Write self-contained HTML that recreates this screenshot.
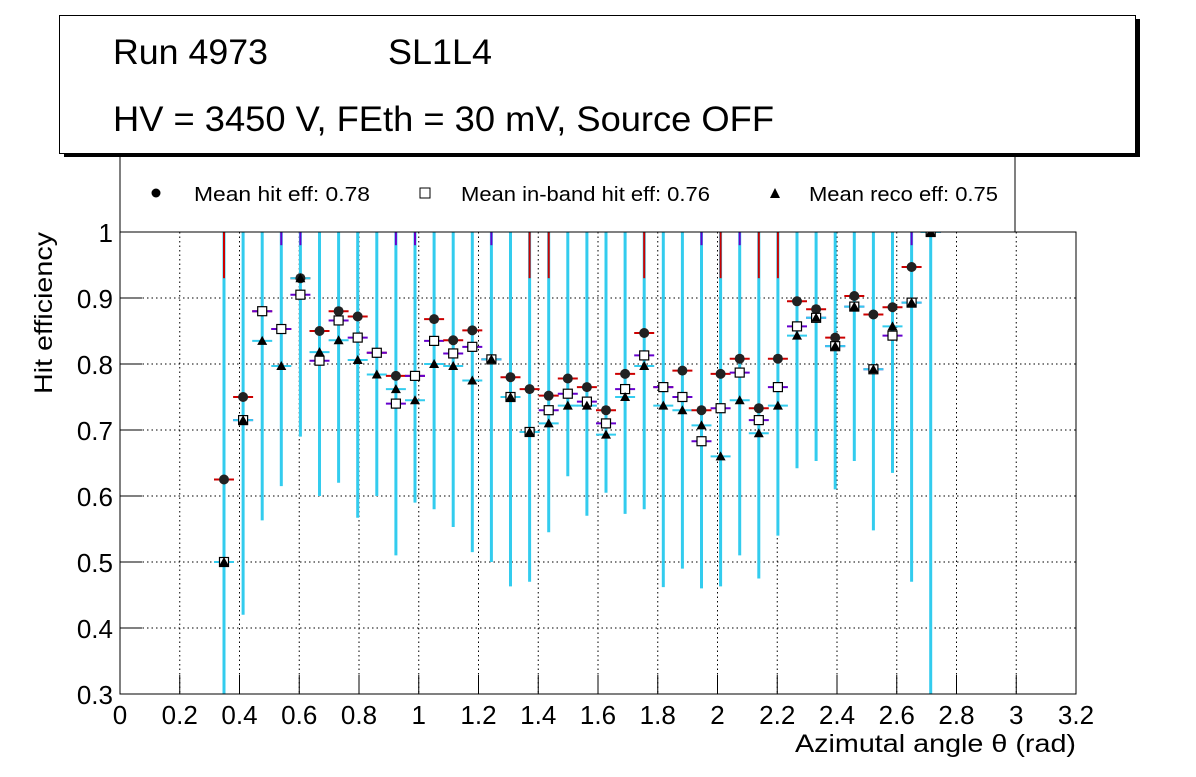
<!DOCTYPE html>
<html><head><meta charset="utf-8"><style>
body{margin:0;background:#fff;width:1196px;height:772px;overflow:hidden}
text{font-family:"Liberation Sans",sans-serif;fill:#000}
</style></head><body>
<svg id="s" width="1196" height="772" xmlns="http://www.w3.org/2000/svg">
<rect width="1196" height="772" fill="#fff"/>
<g id="grid"></g>
<g id="data"></g>
<rect x="120" y="232" width="956" height="462" fill="none" stroke="#000" stroke-width="1"/>
<g id="ticks"></g>
<rect x="120" y="155" width="895" height="77" fill="#fff" stroke="#000"/>
<circle cx="156" cy="193" r="4.5" fill="#000"/>
<text x="194" y="201" font-size="20" textLength="176" lengthAdjust="spacingAndGlyphs">Mean hit  eff: 0.78</text>
<rect x="420" y="188" width="10" height="10" fill="#fff" stroke="#000"/>
<text x="461" y="201" font-size="20" textLength="249" lengthAdjust="spacingAndGlyphs">Mean in-band hit eff: 0.76</text>
<polygon points="775,188 770,198 780,198" fill="#000"/>
<text x="809" y="201" font-size="20" textLength="189" lengthAdjust="spacingAndGlyphs">Mean reco eff: 0.75</text>
<rect x="64" y="19" width="1076" height="138" fill="#000"/>
<rect x="59.5" y="15.5" width="1076" height="138" fill="#fff" stroke="#000"/>
<text x="113" y="64" font-size="35" textLength="155" lengthAdjust="spacingAndGlyphs">Run 4973</text>
<text x="388" y="64" font-size="35" textLength="104" lengthAdjust="spacingAndGlyphs">SL1L4</text>
<text x="113" y="131" font-size="35" textLength="661" lengthAdjust="spacingAndGlyphs">HV = 3450 V, FEth = 30 mV, Source OFF</text>
<text x="795" y="752" font-size="25" textLength="281" lengthAdjust="spacingAndGlyphs">Azimutal angle θ (rad)</text>
<text transform="translate(52,394) rotate(-90)" font-size="25" textLength="162" lengthAdjust="spacingAndGlyphs">Hit efficiency</text>
</svg>
<script>
var NS="http://www.w3.org/2000/svg";
function el(p,t,a){var e=document.createElementNS(NS,t);for(var k in a)e.setAttribute(k,a[k]);p.appendChild(e);return e;}
var X=function(v){return 120+v*298.75}, Y=function(v){return 694-(v-0.3)*660};
var g=document.getElementById('grid'),tk=document.getElementById('ticks'),d=document.getElementById('data');
for(var i=1;i<16;i++){var x=X(i*0.2);el(g,'line',{x1:x,x2:x,y1:232,y2:694,stroke:'#000','stroke-dasharray':'1.5,3'});}
for(var j=1;j<7;j++){var y=Y(0.3+j*0.1);el(g,'line',{x1:120,x2:1076,y1:y,y2:y,stroke:'#000','stroke-dasharray':'1.5,3'});}
for(var i=0;i<=16;i++){var x=X(i*0.2);el(tk,'line',{x1:x,x2:x,y1:694,y2:675,stroke:'#000'});
 var t=el(tk,'text',{x:x,y:724,'font-size':26,'text-anchor':'middle'});t.textContent=(i==0?'0':(i%5==0?(i/5):(i*0.2).toFixed(1)));}
for(var j=0;j<=7;j++){var y=Y(0.3+j*0.1);el(tk,'line',{x1:120,x2:142,y1:y,y2:y,stroke:'#000'});
 var t=el(tk,'text',{x:113,y:y+10,'font-size':26,'text-anchor':'end'});t.textContent=(j==7?'1':(0.3+j*0.1).toFixed(1));}
var P=[[.625,.50,.50,.30],[.75,.715,.715,.42],[.88,.88,.835,.563],[.853,.853,.797,.615],[.93,.905,.93,.69],[.85,.805,.818,.6],[.88,.866,.836,.62],[.872,.84,.806,.567],[.817,.817,.784,.6],[.782,.74,.762,.51],[.782,.782,.745,.59],[.868,.835,.80,.58],[.836,.816,.797,.553],[.851,.826,.775,.515],[.807,.807,.807,.5],[.78,.75,.75,.463],[.762,.697,.697,.47],[.752,.73,.71,.545],[.778,.755,.737,.63],[.765,.743,.737,.57],[.73,.71,.693,.605],[.785,.762,.75,.573],[.847,.813,.797,.58],[.765,.765,.737,.462],[.79,.75,.73,.49],[.73,.683,.707,.46],[.785,.733,.66,.463],[.808,.787,.745,.51],[.733,.715,.695,.475],[.808,.765,.737,.54],[.895,.857,.843,.642],[.883,.87,.87,.653],[.84,.827,.827,.61],[.903,.887,.887,.653],[.875,.792,.792,.548],[.886,.843,.857,.635],[.947,.893,.893,.47],[1,1,1,.3]];
var red=[0,26,29,16,17,22,28],pur=[3,4,14,25,27,9,10,36];
P.forEach(function(p,i){var x=224+i*19.1;
 el(d,'line',{x1:x,x2:x,y1:Y(1),y2:Y(p[3]),stroke:'#33ccee','stroke-width':3});
 if(red.indexOf(i)>=0)el(d,'line',{x1:x,x2:x,y1:Y(1),y2:Y(0.93),stroke:'#cc0000','stroke-width':2});
 if(pur.indexOf(i)>=0)el(d,'line',{x1:x,x2:x,y1:Y(1),y2:Y(0.98),stroke:'#6600cc','stroke-width':2});
 el(d,'line',{x1:x-10,x2:x+10,y1:Y(p[0]),y2:Y(p[0]),stroke:'#cc0000','stroke-width':2});
 el(d,'line',{x1:x-10,x2:x+10,y1:Y(p[1]),y2:Y(p[1]),stroke:'#6600cc','stroke-width':2});
 el(d,'line',{x1:x-10,x2:x+10,y1:Y(p[2]),y2:Y(p[2]),stroke:'#33ccee','stroke-width':2});
 el(d,'circle',{cx:x,cy:Y(p[0]),r:5,fill:'#222'});
 el(d,'rect',{x:x-4.5,y:Y(p[1])-4.5,width:9,height:9,fill:'#fff',stroke:'#000','stroke-width':1.2});
 var yy=Y(p[2]);el(d,'polygon',{points:(x)+','+(yy-5)+' '+(x-5)+','+(yy+4)+' '+(x+5)+','+(yy+4),fill:'#000'});
});
</script>
</body></html>
